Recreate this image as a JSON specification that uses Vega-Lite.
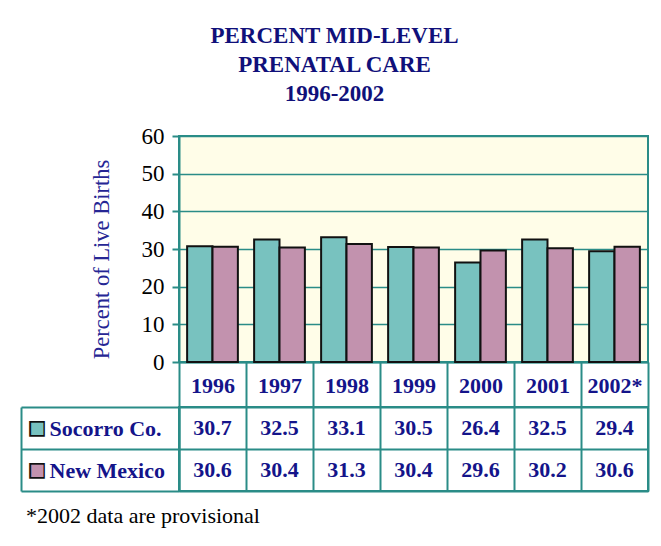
{
  "$schema": "https://vega.github.io/schema/vega-lite/v6.json",
  "background": "white",
  "padding": {"left": 19, "top": 25, "right": 5, "bottom": 5},
  "config": {"font": "Liberation Serif"},
  "datasets": {
    "vals": [
      {"year": "1996", "series": "Socorro Co.", "value": 30.7},
      {"year": "1996", "series": "New Mexico", "value": 30.6},
      {"year": "1997", "series": "Socorro Co.", "value": 32.5},
      {"year": "1997", "series": "New Mexico", "value": 30.4},
      {"year": "1998", "series": "Socorro Co.", "value": 33.1},
      {"year": "1998", "series": "New Mexico", "value": 31.3},
      {"year": "1999", "series": "Socorro Co.", "value": 30.5},
      {"year": "1999", "series": "New Mexico", "value": 30.4},
      {"year": "2000", "series": "Socorro Co.", "value": 26.4},
      {"year": "2000", "series": "New Mexico", "value": 29.6},
      {"year": "2001", "series": "Socorro Co.", "value": 32.5},
      {"year": "2001", "series": "New Mexico", "value": 30.2},
      {"year": "2002*", "series": "Socorro Co.", "value": 29.4},
      {"year": "2002*", "series": "New Mexico", "value": 30.6}
    ]
  },
  "title": {
    "text": ["PERCENT MID-LEVEL", "PRENATAL CARE", "1996-2002"],
    "font": "Liberation Serif", "fontSize": 23, "fontWeight": "bold",
    "color": "#10107a", "lineHeight": 29, "anchor": "middle", "offset": 18
  },
  "bounds": "flush",
  "spacing": 45,
  "vconcat": [
    {
      "width": 469, "height": 226,
      "data": {"name": "vals"},
      "view": {"fill": "#fffde8", "stroke": "#2a8c87", "strokeWidth": 2},
      "mark": {"type": "bar", "stroke": "#111111", "strokeWidth": 2},
      "encoding": {
        "x": {
          "field": "year", "type": "nominal", "sort": null,
          "scale": {"paddingInner": 0, "paddingOuter": 0},
          "axis": {
            "title": null, "orient": "bottom", "tickBand": "extent",
            "tickSize": 45, "tickColor": "#2a8c87", "tickWidth": 2,
            "domainColor": "#2a8c87", "domainWidth": 2,
            "labelFont": "Liberation Serif", "labelFontSize": 22, "labelFontWeight": "bold",
            "labelColor": "#14148a", "labelAngle": 0, "labelBaseline": "middle", "labelPadding": -22
          }
        },
        "xOffset": {
          "field": "series", "type": "nominal", "sort": ["Socorro Co.", "New Mexico"],
          "scale": {"paddingOuter": 0.32, "paddingInner": 0}
        },
        "y": {
          "field": "value", "type": "quantitative",
          "scale": {"domain": [0, 60]},
          "axis": {
            "tickCount": 6, "grid": true, "gridColor": "#2a8c87", "gridWidth": 1.5,
            "tickSize": 7, "tickColor": "#2a8c87", "tickWidth": 2,
            "domainColor": "#2a8c87", "domainWidth": 2,
            "labelFont": "Liberation Serif", "labelFontSize": 23, "labelColor": "#000000", "labelPadding": 8,
            "title": "Percent of Live Births", "titleFont": "Liberation Serif", "titleFontSize": 22.5,
            "titleFontWeight": "normal", "titleColor": "#262694", "titlePadding": 28, "titleY": 123
          }
        },
        "color": {
          "field": "series", "type": "nominal",
          "scale": {"domain": ["Socorro Co.", "New Mexico"], "range": ["#78c2bf", "#c292ae"]},
          "legend": null
        }
      }
    },
    {
      "width": 469, "height": 84,
      "data": {"name": "vals"},
      "view": {"fill": "white", "stroke": "#2a8c87", "strokeWidth": 2},
      "title": {
        "text": "*2002 data are provisional", "orient": "bottom", "anchor": "start",
        "font": "Liberation Serif", "fontSize": 22, "fontWeight": "normal", "color": "#000000",
        "dx": 6, "offset": 14
      },
      "layer": [
        {
          "mark": {"type": "text", "font": "Liberation Serif", "fontSize": 22, "fontWeight": "bold", "color": "#14148a"},
          "encoding": {
            "x": {
              "field": "year", "type": "nominal", "sort": null,
              "scale": {"paddingInner": 0, "paddingOuter": 0},
              "axis": {"grid": true, "tickBand": "extent", "gridColor": "#2a8c87", "gridWidth": 2,
                       "labels": false, "ticks": false, "domain": false, "title": null}
            },
            "y": {
              "field": "series", "type": "nominal", "sort": ["Socorro Co.", "New Mexico"],
              "scale": {"paddingInner": 0, "paddingOuter": 0},
              "axis": {
                "orient": "left", "title": null, "tickBand": "extent",
                "tickSize": 158, "tickColor": "#2a8c87", "tickWidth": 2,
                "grid": true, "gridColor": "#2a8c87", "gridWidth": 2,
                "domainColor": "#2a8c87", "domainWidth": 2,
                "labelAlign": "left", "labelPadding": -28, "labelBaseline": "middle",
                "labelFont": "Liberation Serif", "labelFontSize": 22, "labelFontWeight": "bold", "labelColor": "#14148a"
              }
            },
            "text": {"field": "value", "type": "quantitative", "format": ".1f"}
          }
        },
        {
          "mark": {"type": "text", "opacity": 0},
          "encoding": {
            "y": {
              "field": "series", "type": "nominal", "sort": ["Socorro Co.", "New Mexico"],
              "axis": {
                "orient": "left", "offset": 158, "title": null, "ticks": false, "grid": false,
                "domain": true, "domainColor": "#2a8c87", "domainWidth": 2,
                "labelExpr": "'■'", "labelFont": "DejaVu Sans", "labelFontSize": 20.5,
                "labelAlign": "center", "labelBaseline": "middle", "labelPadding": -15.5, "labelColor": "#111111"
              }
            }
          }
        },
        {
          "mark": {"type": "text", "opacity": 0},
          "encoding": {
            "y": {
              "field": "series", "type": "nominal", "sort": ["Socorro Co.", "New Mexico"],
              "axis": {
                "orient": "left", "offset": 158, "title": null, "ticks": false, "grid": false, "domain": false,
                "labelExpr": "'■'", "labelFont": "DejaVu Sans", "labelFontSize": 16,
                "labelAlign": "center", "labelBaseline": "middle", "labelPadding": -15.5,
                "labelColor": {"condition": {"test": "datum.value == 'Socorro Co.'", "value": "#78c2bf"}, "value": "#c292ae"}
              }
            }
          }
        }
      ],
      "resolve": {"axis": {"y": "independent"}}
    }
  ]
}
